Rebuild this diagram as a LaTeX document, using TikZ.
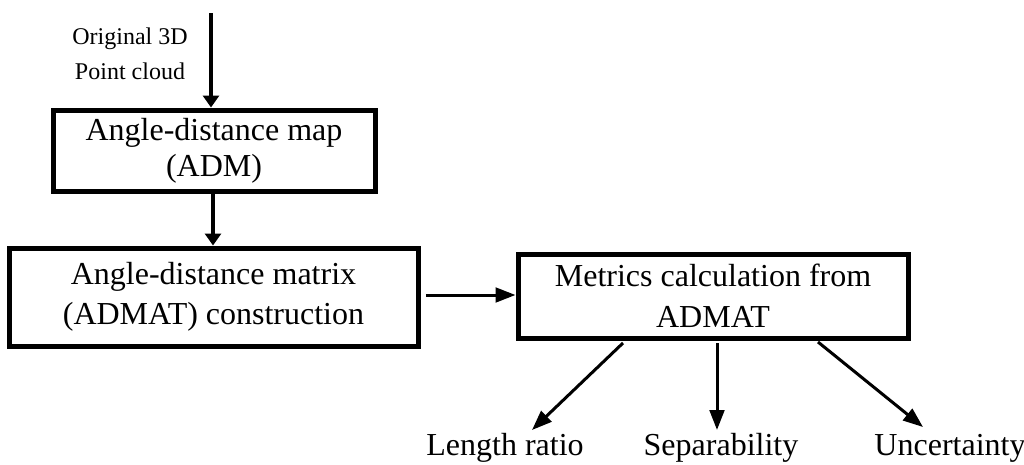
\documentclass[tikz,border=0pt]{standalone}
\usepackage{fontspec}
\setmainfont{Liberation Serif}
\usetikzlibrary{arrows.meta,calc}
\begin{document}
\begin{tikzpicture}[x=0.75pt,y=-0.75pt,
  box/.style={draw,line width=3.75pt,align=center,inner sep=0pt},
  lbl/.style={font=\fontsize{24}{27}\selectfont,anchor=base,inner sep=0pt},
  arrshort/.style={line width=2.4pt,-{Triangle[length=9pt,width=12pt]}},
  arrlong/.style={line width=2.25pt,-{Triangle[length=15pt,width=11pt]}}]
\useasboundingbox (0,0) rectangle (1024,464);
\node[align=center,font=\fontsize{18}{26}\selectfont,inner sep=0pt] (orig) at (130,54) {Original 3D\\Point cloud};
\node[box,minimum width=241.5pt,minimum height=60.75pt,font=\fontsize{24}{27}\selectfont] (b1) at (214,150.5) {Angle-distance map\\(ADM)};
\node[box,minimum width=306.75pt,minimum height=73.5pt,font=\fontsize{24}{30}\selectfont] (b2) at (213.5,297) {Angle-distance matrix\\(ADMAT) construction};
\node[box,minimum width=292.5pt,minimum height=63pt,font=\fontsize{24}{30.5}\selectfont] (b3) at (713,296) {Metrics calculation from\\ADMAT};
\node[lbl] (lr) at (505,455) {Length ratio};
\node[lbl] (sep) at (721,455) {Separability};
\node[lbl] (unc) at (950,455) {Uncertainty};
\coordinate (start) at (211,13);
\coordinate (a1s) at (623,343);
\coordinate (a1e) at (532,430);
\coordinate (a2s) at (717,343);
\coordinate (a2e) at (717,430);
\coordinate (a3s) at (818,342);
\coordinate (a3e) at (923,427);
\draw[arrshort] (start) -- (start |- b1.north);
\draw[arrshort] (b1.south -| 213,0) -- (b2.north -| 213,0);
\draw[arrlong,shorten <=4pt] (b2.east |- 0,295) -- (b3.west |- 0,295);
\draw[arrlong] (a1s) -- (a1e);
\draw[arrlong] (a2s) -- (a2e);
\draw[arrlong] (a3s) -- (a3e);
\end{tikzpicture}
\end{document}
